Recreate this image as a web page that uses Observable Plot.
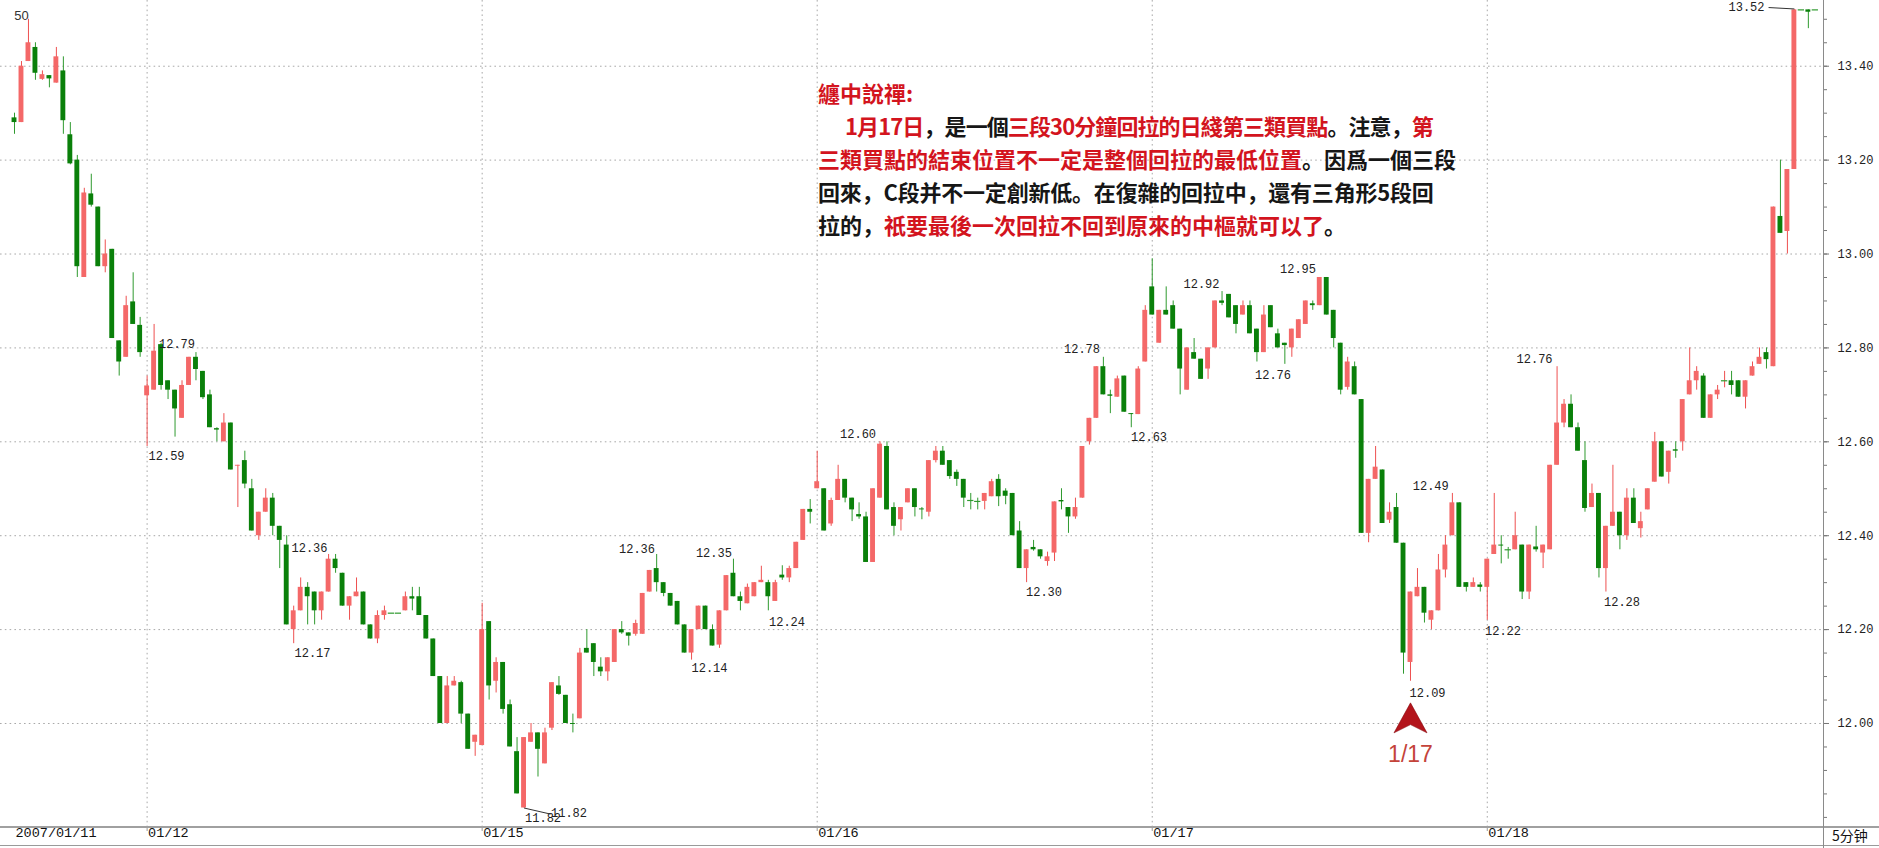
<!DOCTYPE html>
<html><head><meta charset="utf-8">
<script src="https://cdn.jsdelivr.net/npm/d3@7"></script>
<script src="https://cdn.jsdelivr.net/npm/@observablehq/plot@0.6"></script>
<style>
body{margin:0;background:#fff;}
#wrap{position:relative;width:1879px;height:848px;overflow:hidden;background:#fff;}
#chart{position:absolute;left:0;top:0;}
.note{position:absolute;left:818px;top:76px;font:bold 22px "Noto Sans CJK SC";color:#161616;}
.note .ln{height:33px;line-height:33px;white-space:nowrap;}
.note .r{color:#d3141e;}
.hl{position:absolute;left:0;width:1879px;height:0;border-top:1px solid #9a9a9a;}
.vl{position:absolute;top:0;width:0;height:848px;border-left:1px solid #8a8a8a;}
.unit{position:absolute;left:1832px;top:826px;font:14px "Noto Sans CJK SC";color:#111;line-height:19px;}
</style></head>
<body>
<div id="wrap">
<div id="chart"></div>
<div class="hl" style="top:826px;border-top:2px solid #a0a0a0"></div>
<div class="hl" style="top:845px"></div>
<div class="vl" style="left:1823px"></div>
<div class="unit">5分钟</div>
<div class="note" id="note"></div>
</div>
<script>
// ---- 5-minute bars, 2007/01/11 (partial) to 01/18 ----
const opens = [13.29,13.28,13.41,13.44,13.372,13.38,13.364,13.39,13.254,13.20,12.95,13.128,13.10,12.973,13.01,12.815,12.78,12.898,12.848,
12.698,12.71,12.807,12.73,12.71,12.65,12.72,12.78,12.75,12.70,12.628,12.60,12.64,12.548,12.56,12.50,12.40,12.45,12.48,12.42,12.38,12.20,12.24,12.29,12.28,12.24,12.28,12.35,12.32,12.25,12.27,12.28,12.21,12.18,12.23,12.235,12.235,12.24,12.27,12.27,12.23,12.18,12.10,12.00,12.08,12.087,12.02,11.96,
11.953,12.217,12.09,12.13,12.04,11.94,11.82,11.96,11.98,11.914,11.99,12.08,12.06,12.00,12.01,12.16,12.17,12.12,12.11,12.13,12.20,12.193,12.19,12.19,12.28,12.33,12.30,12.277,12.26,12.21,12.15,12.20,12.25,12.20,12.167,12.24,12.32,12.27,12.255,12.27,12.30,12.30,12.26,12.316,12.31,12.33,12.39,12.456,
12.50,12.50,12.425,12.475,12.52,12.48,12.445,12.44,12.343,12.48,12.59,12.46,12.434,12.47,12.50,12.457,12.45,12.56,12.58,12.56,12.535,12.52,12.475,12.473,12.473,12.483,12.52,12.495,12.49,12.41,12.33,12.375,12.37,12.345,12.363,12.475,12.46,12.44,12.48,12.60,12.65,12.76,12.70,12.695,12.74,12.66,12.658,12.77,
12.93,12.81,12.88,12.89,12.84,12.71,12.79,12.776,12.755,12.80,12.90,12.914,12.89,12.87,12.89,12.84,12.79,12.89,12.83,12.81,12.80,12.82,12.85,12.894,12.89,12.95,12.88,12.81,12.716,12.76,12.69,12.405,12.52,12.54,12.433,12.46,12.384,12.13,12.27,12.29,12.22,12.24,12.327,12.40,12.47,12.30,12.29,12.295,
12.29,12.36,12.38,12.37,12.37,12.38,12.28,12.376,12.363,12.37,12.55,12.64,12.68,12.63,12.56,12.46,12.49,12.33,12.42,12.45,12.40,12.48,12.415,12.455,12.514,12.60,12.535,12.583,12.60,12.70,12.73,12.74,12.65,12.70,12.73,12.73,12.73,12.695,12.74,12.765,12.79,12.76,13.08,13.048,13.18,13.52,13.52,13.52];
const highs = [13.30,13.41,13.50,13.45,13.39,13.38,13.44,13.42,13.28,13.21,13.14,13.17,13.10,13.03,13.01,12.815,12.91,12.96,12.865,
12.74,12.85,12.81,12.73,12.71,12.73,12.78,12.79,12.75,12.71,12.63,12.66,12.64,12.55,12.58,12.52,12.45,12.50,12.49,12.42,12.40,12.25,12.31,12.30,12.28,12.28,12.36,12.36,12.32,12.27,12.31,12.28,12.21,12.24,12.25,12.235,12.235,12.28,12.29,12.29,12.23,12.18,12.10,12.10,12.10,12.09,12.02,11.975,
12.256,12.217,12.14,12.13,12.05,11.97,11.97,12.00,11.98,11.99,12.087,12.10,12.06,12.02,12.16,12.20,12.17,12.14,12.14,12.20,12.217,12.193,12.22,12.277,12.326,12.36,12.30,12.277,12.26,12.21,12.20,12.25,12.25,12.21,12.24,12.315,12.35,12.28,12.297,12.30,12.335,12.305,12.305,12.336,12.335,12.386,12.456,12.477,
12.58,12.50,12.48,12.55,12.52,12.48,12.47,12.45,12.50,12.60,12.60,12.47,12.46,12.50,12.50,12.46,12.56,12.59,12.59,12.56,12.54,12.52,12.49,12.48,12.49,12.52,12.53,12.50,12.49,12.43,12.37,12.39,12.37,12.365,12.472,12.50,12.46,12.48,12.59,12.65,12.76,12.78,12.71,12.74,12.74,12.66,12.76,12.89,
12.99,12.88,12.93,12.90,12.84,12.80,12.82,12.776,12.80,12.90,12.92,12.914,12.89,12.90,12.90,12.84,12.89,12.89,12.84,12.81,12.84,12.86,12.90,12.90,12.95,12.95,12.88,12.81,12.78,12.77,12.69,12.52,12.59,12.54,12.47,12.49,12.384,12.28,12.33,12.29,12.24,12.36,12.40,12.49,12.47,12.30,12.31,12.30,
12.35,12.49,12.40,12.375,12.45,12.38,12.38,12.42,12.38,12.55,12.76,12.69,12.70,12.64,12.60,12.51,12.49,12.42,12.55,12.45,12.50,12.50,12.45,12.50,12.62,12.60,12.58,12.60,12.69,12.80,12.76,12.745,12.70,12.72,12.75,12.75,12.73,12.73,12.77,12.80,12.80,13.10,13.20,13.18,13.52,13.52,13.52,13.52];
const lows = [13.255,13.28,13.41,13.37,13.37,13.354,13.364,13.255,13.19,12.95,12.95,13.10,12.973,12.96,12.82,12.74,12.78,12.85,12.78,
12.59,12.71,12.71,12.69,12.61,12.65,12.72,12.73,12.69,12.63,12.60,12.60,12.54,12.46,12.50,12.41,12.39,12.45,12.40,12.33,12.21,12.17,12.24,12.21,12.21,12.22,12.28,12.32,12.25,12.22,12.27,12.21,12.18,12.17,12.22,12.235,12.235,12.24,12.24,12.23,12.18,12.10,12.00,12.00,12.08,12.00,11.945,11.93,
11.953,12.05,12.065,12.02,11.95,11.85,11.82,11.96,11.886,11.914,11.985,12.06,12.00,11.98,12.01,12.15,12.10,12.10,12.09,12.13,12.19,12.165,12.186,12.19,12.28,12.28,12.27,12.25,12.21,12.15,12.135,12.20,12.20,12.165,12.16,12.24,12.27,12.24,12.255,12.27,12.30,12.24,12.26,12.305,12.30,12.33,12.39,12.425,
12.50,12.41,12.42,12.475,12.47,12.43,12.435,12.343,12.343,12.48,12.455,12.40,12.41,12.47,12.44,12.434,12.44,12.555,12.55,12.52,12.505,12.46,12.455,12.455,12.455,12.483,12.462,12.466,12.40,12.33,12.30,12.367,12.35,12.335,12.345,12.455,12.405,12.435,12.48,12.593,12.65,12.70,12.66,12.695,12.663,12.63,12.658,12.77,
12.87,12.81,12.87,12.84,12.70,12.71,12.776,12.733,12.733,12.80,12.89,12.864,12.83,12.87,12.83,12.77,12.79,12.843,12.80,12.765,12.78,12.82,12.85,12.88,12.89,12.87,12.80,12.70,12.71,12.70,12.405,12.385,12.52,12.426,12.426,12.384,12.105,12.09,12.27,12.214,12.20,12.24,12.31,12.40,12.29,12.28,12.29,12.28,
12.22,12.36,12.34,12.35,12.37,12.264,12.264,12.365,12.33,12.37,12.55,12.63,12.63,12.58,12.45,12.46,12.31,12.28,12.42,12.37,12.39,12.426,12.395,12.455,12.514,12.525,12.51,12.565,12.58,12.70,12.71,12.65,12.65,12.69,12.715,12.70,12.695,12.67,12.74,12.765,12.755,12.76,13.044,13.00,13.18,13.52,13.48,13.52];
const closes = [13.28,13.40,13.45,13.385,13.382,13.373,13.42,13.284,13.192,12.973,13.13,13.104,12.973,13.00,12.82,12.77,12.89,12.85,12.79,
12.719,12.793,12.72,12.71,12.67,12.72,12.78,12.754,12.694,12.63,12.625,12.64,12.54,12.55,12.51,12.41,12.45,12.48,12.42,12.39,12.21,12.24,12.29,12.27,12.24,12.28,12.35,12.33,12.25,12.27,12.28,12.21,12.18,12.23,12.24,12.235,12.235,12.27,12.265,12.23,12.18,12.10,12.00,12.08,12.09,12.02,11.945,11.975,
12.20,12.08,12.13,12.03,11.95,11.85,11.97,11.98,11.945,11.98,12.087,12.062,12.00,11.998,12.15,12.15,12.13,12.11,12.14,12.20,12.193,12.186,12.213,12.277,12.326,12.30,12.277,12.25,12.21,12.15,12.20,12.25,12.20,12.165,12.24,12.315,12.27,12.26,12.29,12.30,12.305,12.27,12.30,12.31,12.33,12.386,12.456,12.45,
12.515,12.41,12.475,12.52,12.48,12.455,12.44,12.343,12.50,12.595,12.455,12.42,12.46,12.50,12.46,12.455,12.56,12.58,12.55,12.526,12.52,12.48,12.473,12.472,12.49,12.515,12.483,12.484,12.40,12.33,12.37,12.37,12.355,12.355,12.472,12.472,12.44,12.46,12.59,12.65,12.76,12.70,12.697,12.734,12.663,12.658,12.755,12.88,
12.87,12.88,12.87,12.84,12.755,12.80,12.776,12.733,12.80,12.90,12.895,12.864,12.85,12.89,12.83,12.79,12.87,12.843,12.80,12.805,12.84,12.86,12.90,12.89,12.95,12.87,12.82,12.71,12.77,12.70,12.405,12.52,12.546,12.426,12.45,12.384,12.15,12.28,12.29,12.235,12.24,12.327,12.38,12.47,12.29,12.29,12.30,12.29,
12.35,12.38,12.378,12.368,12.40,12.28,12.38,12.37,12.38,12.55,12.64,12.68,12.63,12.58,12.458,12.49,12.33,12.42,12.45,12.40,12.48,12.426,12.43,12.50,12.60,12.525,12.58,12.58,12.69,12.73,12.75,12.65,12.70,12.71,12.732,12.72,12.695,12.73,12.76,12.78,12.775,13.10,13.044,13.18,13.52,13.52,13.515,13.52];

// day boundaries (bar index) and their labels
const dayStarts = [0, 19, 67, 115, 163, 211];
const dayLabels = ["2007/01/11", "01/12", "01/15", "01/16", "01/17", "01/18"];
// price axis
const yTicks = [12.00, 12.20, 12.40, 12.60, 12.80, 13.00, 13.20, 13.40];
const yMinor = d3.range(11.80, 13.52, 0.05).map(v => +v.toFixed(2));
// high / low value labels (bar position, price)
const labelTexts = ["12.79","12.59","12.36","12.17","11.82","11.82","12.36","12.35","12.14","12.24","12.60","12.30","12.78","12.63","12.92","12.95","12.76","12.49","12.09","12.22","12.76","12.28","13.52"];
const labelX = [23.28,21.78,42.26,42.69,75.72,79.44,89.18,100.2,99.57,110.67,120.85,147.49,152.94,162.54,170.06,183.88,180.3,202.9,202.44,213.25,217.77,230.3,248.14];
const labelY = [12.807,12.569,12.373,12.150,11.798,11.809,12.371,12.363,12.118,12.216,12.616,12.280,12.797,12.610,12.935,12.967,12.742,12.505,12.064,12.197,12.776,12.258,13.525];
const cutLabel = {text: "50", x: 1.0, y: 13.508};
const leaders = [{x1: 251.3, y1: 13.525, x2: 255, y2: 13.522}, {x1: 73, y1: 11.82, x2: 76.8, y2: 11.807}];
const arrowAt = {x: 200, y: 12.012, text: "1/17", ty: 11.933};
// annotation text: lines of [text, isRed]
const noteLines = [
  [["纏中說禪:", 1]],
  [["1月17日", 1], ["，是一個", 0], ["三段30分鐘回拉的日綫第三類買點", 1], ["。注意，", 0], ["第", 1]],
  [["三類買點的結束位置不一定是整個回拉的最低位置", 1], ["。因爲一個三段", 0]],
  [["回來，C段并不一定創新低。在復雜的回拉中，還有三角形5段回", 0]],
  [["拉的，", 0], ["祇要最後一次回拉不回到原來的中樞就可以了", 1], ["。", 0]]
];

const note = document.getElementById("note");
noteLines.forEach((segs, k) => {
  const ln = document.createElement("div");
  ln.className = "ln";
  if (k === 1) { ln.style.paddingLeft = "27px"; ln.style.letterSpacing = "-0.9px"; }
  if (k === 3) { ln.style.letterSpacing = "-0.2px"; }
  segs.forEach(([t, red]) => {
    const s = document.createElement("span");
    if (red) s.className = "r";
    s.textContent = t;
    ln.appendChild(s);
  });
  note.appendChild(ln);
});

const bars = opens.map((o, i) => ({i, o, h: highs[i], l: lows[i], c: closes[i]}));
const RED = "#f46868", REDW = "#ee5050", GRN = "#0a800a", GRNW = "#2f9a2f";
const isUp = d => d.c > d.o;
const bodies = bars.filter(d => Math.abs(d.c - d.o) >= 0.002);
const dojis = bars.filter(d => Math.abs(d.c - d.o) < 0.002);
const labels = labelTexts.map((t, k) => ({t, x: labelX[k], y: labelY[k]}));

const arrowSymbol = {
  draw(ctx, size) {
    const s = Math.sqrt(size / Math.PI);
    ctx.moveTo(0, -1.0 * s);
    ctx.lineTo(1.1 * s, 1.0 * s);
    ctx.lineTo(0, 0.45 * s);
    ctx.lineTo(-1.1 * s, 1.0 * s);
    ctx.closePath();
  }
};

const chart = Plot.plot({
  width: 1879, height: 848,
  marginTop: 0, marginRight: 56, marginBottom: 22, marginLeft: 0,
  x: {domain: [-2.006, 259.17], axis: null},
  y: {domain: [11.7806, 13.54], axis: null},
  color: {type: "identity"},
  style: {background: "transparent", overflow: "hidden"},
  marks: [
    Plot.ruleY(yTicks, {stroke: "#a8a8a8", strokeDasharray: "1.6,3.2"}),
    Plot.ruleX(dayStarts.slice(1), {stroke: "#a8a8a8", strokeDasharray: "1.6,3.2"}),
    Plot.ruleX(dayStarts.slice(1), {y1: 11.7806, y2: 11.7806, insetBottom: -5, stroke: "#999"}),
    Plot.ruleX(bars, {x: "i", y1: "l", y2: "h", stroke: d => isUp(d) ? REDW : GRNW, strokeWidth: 1}),
    Plot.rect(bodies, {x1: d => d.i - 0.35, x2: d => d.i + 0.35, y1: "o", y2: "c", fill: d => isUp(d) ? RED : GRN}),
    Plot.ruleY(dojis, {y: "o", x1: d => d.i - 0.45, x2: d => d.i + 0.45, stroke: GRNW, strokeWidth: 1.2}),
    Plot.link(leaders, {x1: "x1", y1: "y1", x2: "x2", y2: "y2", stroke: "#333", strokeWidth: 1}),
    Plot.text(labels, {x: "x", y: "y", text: "t", fontFamily: "Liberation Mono", fontSize: 12, fill: "#222"}),
    Plot.text([cutLabel], {x: "x", y: "y", text: "text", fontFamily: "Liberation Sans", fontSize: 13, fill: "#333"}),
    Plot.dot([arrowAt], {x: "x", y: "y", symbol: arrowSymbol, r: 15, fill: "#b3141b", stroke: "#8a0c10", strokeWidth: 0.6}),
    Plot.text([arrowAt], {x: "x", y: "ty", text: "text", fontFamily: "Liberation Sans", fontSize: 23, fill: "#c4433a"}),
    Plot.text(dayStarts, {x: d => d, frameAnchor: "bottom", dy: 10, dx: 1, textAnchor: "start", text: (d, k) => dayLabels[k], fontFamily: "Liberation Mono", fontSize: 13.5, fill: "#111"}),
    Plot.axisY({anchor: "right", ticks: yMinor, tickSize: 3, tickFormat: () => "", stroke: "#777"}),
    Plot.axisY({anchor: "right", ticks: yTicks, tickSize: 5, tickPadding: 9, tickFormat: d => d.toFixed(2), fontFamily: "Liberation Mono", fontSize: 12, fill: "#222", stroke: "#777"})
  ]
});
document.getElementById("chart").appendChild(chart);
</script>
</body></html>
